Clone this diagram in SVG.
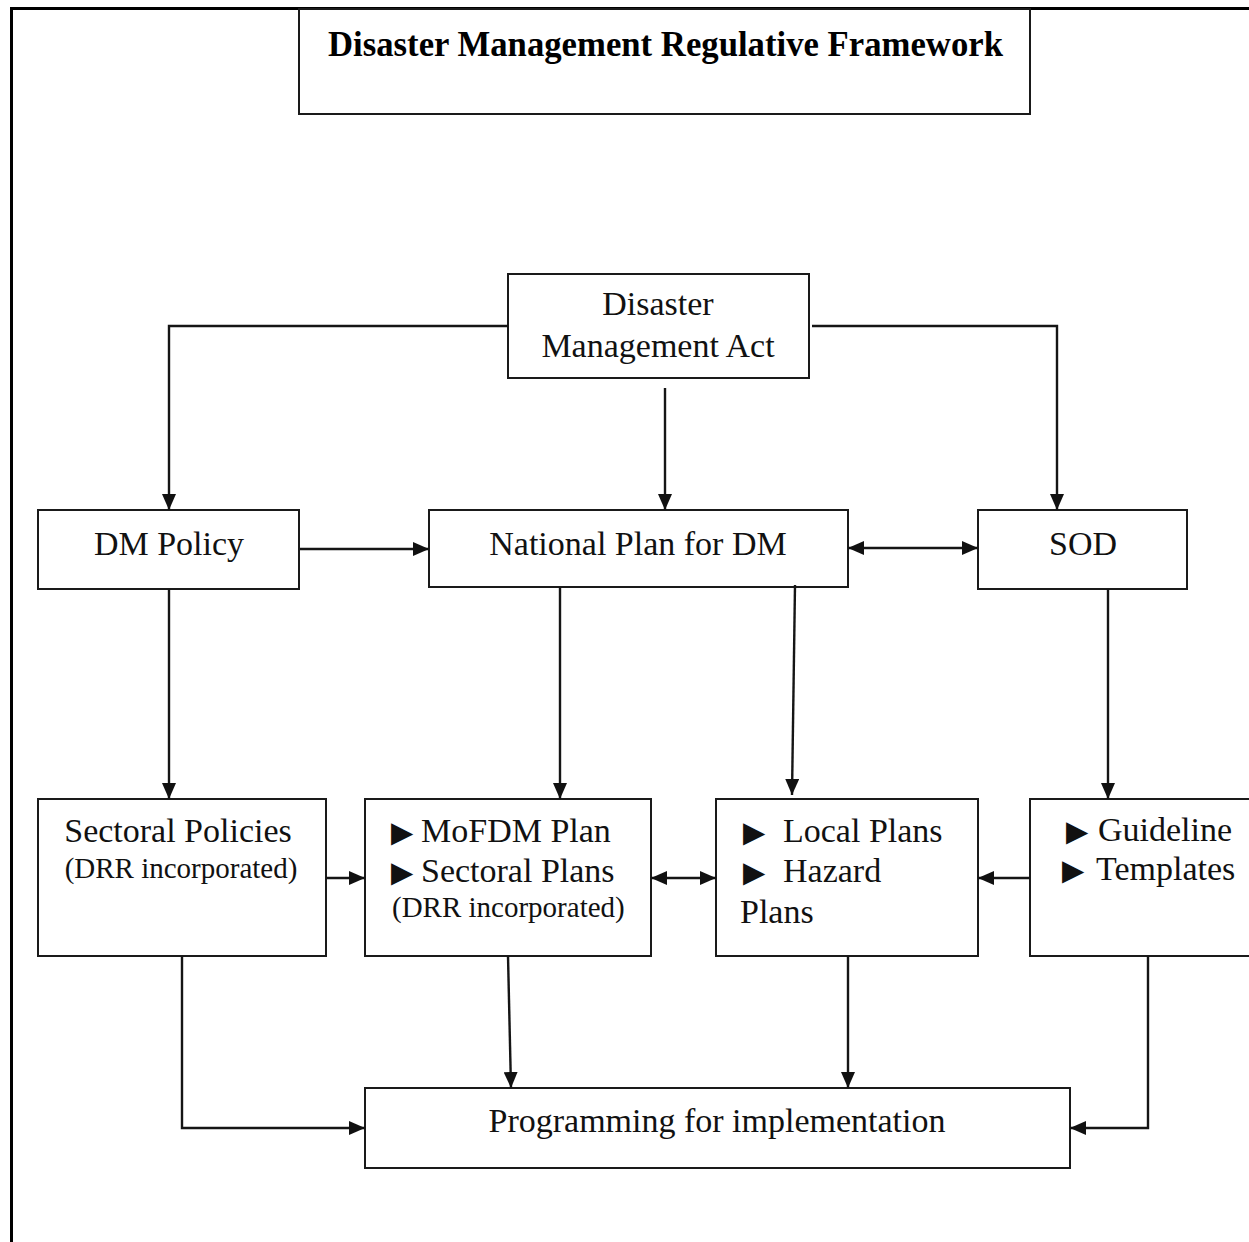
<svg xmlns="http://www.w3.org/2000/svg" width="1249" height="1242" viewBox="0 0 1249 1242">
  <style>
    .box { fill: #fff; stroke: #1a1a1a; stroke-width: 2; }
    .t { font-family: "Liberation Serif", "Times New Roman", serif; font-size: 34px; fill: #111; }
    .c { text-anchor: middle; }
    .s { font-size: 29px; }
    .tri { font-family: "DejaVu Sans", sans-serif; font-size: 29px; }
    .title { font-family: "Liberation Serif", "Times New Roman", serif; font-size: 35px; font-weight: bold; fill: #000; }
    .ln { fill: none; stroke: #151515; stroke-width: 2.4; }
    .arr { marker-end: url(#ah); }
    .dbl { marker-start: url(#ah); marker-end: url(#ah); }
  </style>
  <defs>
    <marker id="ah" markerWidth="16" markerHeight="14" refX="16" refY="7" orient="auto-start-reverse" markerUnits="userSpaceOnUse">
      <path d="M0,0 L16,7 L0,14 z" fill="#111"/>
    </marker>
  </defs>

  <rect width="1249" height="1242" fill="#fff"/>

  <!-- outer frame, open to the right and bottom -->
  <path d="M11.5,1242 V8.5 H1249" fill="none" stroke="#000" stroke-width="3"/>

  <g id="title">
    <rect class="box" x="299" y="9" width="731" height="105"/>
    <text class="title" x="328" y="56" textLength="675" lengthAdjust="spacingAndGlyphs">Disaster Management Regulative Framework</text>
  </g>

  <g id="dm-act">
    <rect class="box" x="508" y="274" width="301" height="104"/>
    <text class="t c" x="658" y="315">Disaster</text>
    <text class="t c" x="658" y="357">Management Act</text>
  </g>

  <g id="dm-policy">
    <rect class="box" x="38" y="510" width="261" height="79"/>
    <text class="t c" x="169" y="555">DM Policy</text>
  </g>

  <g id="national-plan">
    <rect class="box" x="429" y="510" width="419" height="77"/>
    <text class="t c" x="638" y="555">National Plan for DM</text>
  </g>

  <g id="sod">
    <rect class="box" x="978" y="510" width="209" height="79"/>
    <text class="t c" x="1083" y="555">SOD</text>
  </g>

  <g id="sectoral-policies">
    <rect class="box" x="38" y="799" width="288" height="157"/>
    <text class="t c" x="178" y="842">Sectoral Policies</text>
    <text class="t s c" x="181" y="878">(DRR incorporated)</text>
  </g>

  <g id="mofdm-plans">
    <rect class="box" x="365" y="799" width="286" height="157"/>
    <text class="t" y="842"><tspan class="tri" x="391">▶</tspan><tspan x="421">MoFDM Plan</tspan></text>
    <text class="t" y="882"><tspan class="tri" x="391">▶</tspan><tspan x="421">Sectoral Plans</tspan></text>
    <text class="t s" x="392" y="917">(DRR incorporated)</text>
  </g>

  <g id="local-plans">
    <rect class="box" x="716" y="799" width="262" height="157"/>
    <text class="t" y="842"><tspan class="tri" x="743">▶</tspan><tspan x="783">Local Plans</tspan></text>
    <text class="t" y="882"><tspan class="tri" x="743">▶</tspan><tspan x="783">Hazard</tspan></text>
    <text class="t" x="740" y="923">Plans</text>
  </g>

  <g id="guidelines">
    <path class="box" d="M1250,799 H1030 V956 H1250"/>
    <text class="t" y="841"><tspan class="tri" x="1066">▶</tspan><tspan x="1098">Guideline</tspan></text>
    <text class="t" y="880"><tspan class="tri" x="1062">▶</tspan><tspan x="1096">Templates</tspan></text>
  </g>

  <g id="programming">
    <rect class="box" x="365" y="1088" width="705" height="80"/>
    <text class="t c" x="717" y="1132">Programming for implementation</text>
  </g>

  <g id="connectors">
    <!-- from the Act -->
    <path class="ln arr" d="M508,326 H169 V510"/>
    <path class="ln arr" d="M665,388 V510"/>
    <path class="ln arr" d="M812,326 H1057 V510" stroke="#444"/>
    <!-- second row -->
    <path class="ln arr" d="M300,549 H429"/>
    <path class="ln dbl" d="M848,548 H978"/>
    <path class="ln arr" d="M169,589 V799"/>
    <path class="ln arr" d="M560,587 V799"/>
    <path class="ln arr" d="M795,585 L792,795"/>
    <path class="ln arr" d="M1108,589 V799"/>
    <!-- third row -->
    <path class="ln arr" d="M326,878 H365"/>
    <path class="ln dbl" d="M651,878 H716"/>
    <path class="ln arr" d="M1030,878 H978"/>
    <!-- to programming -->
    <path class="ln arr" d="M182,956 V1128 H365"/>
    <path class="ln arr" d="M508,956 L511,1088"/>
    <path class="ln arr" d="M848,956 V1088"/>
    <path class="ln arr" d="M1148,956 V1128 H1070"/>
  </g>
</svg>
